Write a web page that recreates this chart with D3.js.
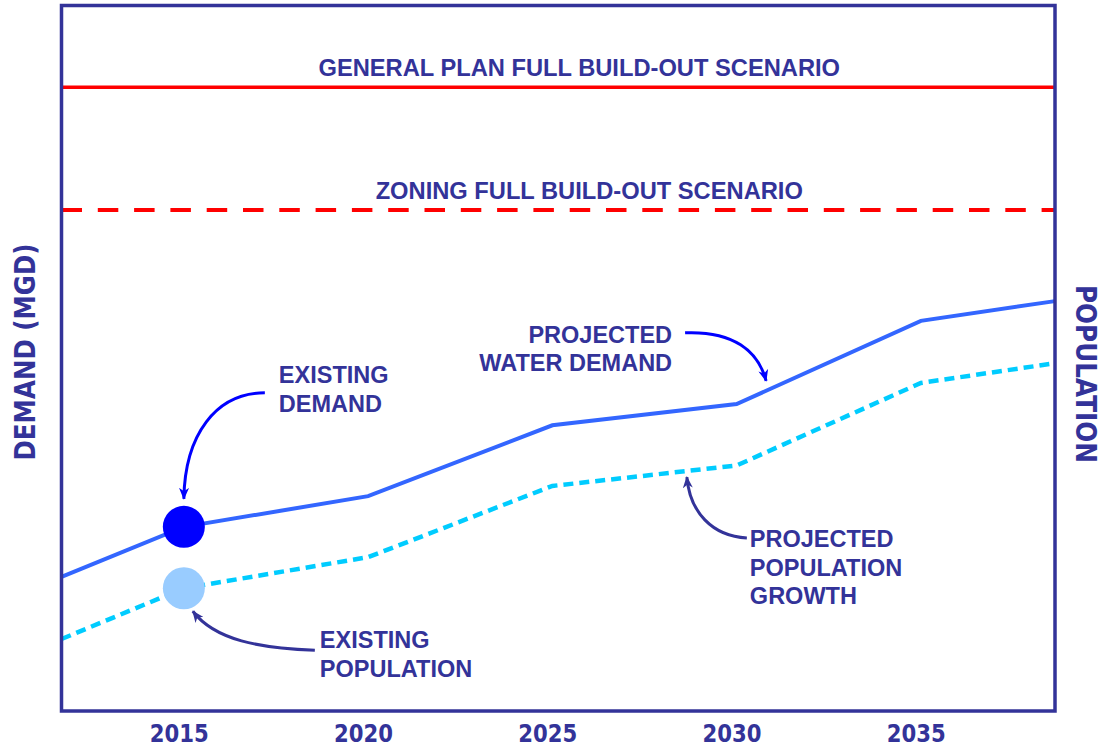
<!DOCTYPE html>
<html>
<head>
<meta charset="utf-8">
<script src="https://cdn.jsdelivr.net/npm/d3@7/dist/d3.min.js"></script>
<style>
  html, body { margin: 0; padding: 0; background: #fff; }
  svg { display: block; }
</style>
</head>
<body>
<svg id="chart" width="1105" height="748"></svg>
<script>
// Years at which the projections change slope; the ends sit on the plot edges
const years = [2011.68, 2015, 2020, 2025, 2030, 2035, 2038.64];
// Projected water demand (MGD, relative units)
const demand = [19.0, 26.1, 30.45, 40.5, 43.5, 55.3, 58.1];
// Projected population (relative units)
const population = [10.2, 17.4, 21.8, 31.9, 34.8, 46.5, 49.3];
// Build-out scenario levels
const scenarioNames = ["GENERAL PLAN FULL BUILD-OUT SCENARIO", "ZONING FULL BUILD-OUT SCENARIO"];
const scenarioLevels = [88.4, 71.0];
// Current conditions
const existingYear = 2015;
const existingDemand = 26.1;
const existingPopulation = 17.4;
// Year tick labels
const tickYears = [2015, 2020, 2025, 2030, 2035];

const NAVY = "#333399";
const svg = d3.select("#chart");
const plot = { left: 61.5, right: 1055, top: 5.5, bottom: 711 };

const x = d3.scaleLinear().domain([years[0], years[years.length - 1]]).range([plot.left, plot.right]);
const y = d3.scaleLinear().domain([0, 100]).range([plot.bottom, plot.top]);

const lineGen = d3.line().x(d => x(d[0])).y(d => y(d[1]));
const demandPts = years.map((yr, i) => [yr, demand[i]]);
const popPts = years.map((yr, i) => [yr, population[i]]);
const interp = (pts, yr) => {
  for (let i = 0; i < pts.length - 1; i++) {
    if (yr >= pts[i][0] && yr <= pts[i + 1][0]) {
      const t = (yr - pts[i][0]) / (pts[i + 1][0] - pts[i][0]);
      return pts[i][1] + t * (pts[i + 1][1] - pts[i][1]);
    }
  }
  return pts[pts.length - 1][1];
};

// Arrowhead markers
const defs = svg.append("defs");
[["arrBlue", "#0000ff"], ["arrNavy", NAVY]].forEach(([id, col]) => {
  defs.append("marker")
    .attr("id", id).attr("viewBox", "0 0 12 10")
    .attr("refX", 11).attr("refY", 5)
    .attr("markerWidth", 12).attr("markerHeight", 10)
    .attr("markerUnits", "userSpaceOnUse")
    .attr("orient", "auto")
    .append("path").attr("d", "M0,0 L12,5 L0,10 L3.5,5 Z").attr("fill", col);
});

// Scenario lines
svg.selectAll(".scenario").data(scenarioLevels).join("line")
  .attr("x1", plot.left).attr("x2", plot.right)
  .attr("y1", d => y(d)).attr("y2", d => y(d))
  .attr("stroke", "#ff0000").attr("stroke-width", (d, i) => i === 1 ? 4 : 3.5)
  .attr("stroke-dasharray", (d, i) => i === 1 ? "20.5,15.8" : null);

const labelShift = [21, 31];
svg.selectAll(".scenarioLabel").data(scenarioNames).join("text")
  .attr("x", (d, i) => (plot.left + plot.right) / 2 + labelShift[i])
  .attr("y", (d, i) => y(scenarioLevels[i]) - 11)
  .attr("text-anchor", "middle")
  .attr("font-family", "'Liberation Sans', Arial, sans-serif")
  .attr("font-weight", "bold").attr("font-size", 23.7)
  .attr("fill", NAVY).text(d => d);

// Population projection (dashed) and demand projection (solid)
svg.append("path").attr("d", lineGen(popPts))
  .attr("fill", "none").attr("stroke", "#00ccff").attr("stroke-width", 4.5)
  .attr("stroke-dasharray", "10,6");
svg.append("path").attr("d", lineGen(demandPts))
  .attr("fill", "none").attr("stroke", "#3366ff").attr("stroke-width", 4)
  .attr("stroke-linejoin", "miter");

// Existing conditions
const R = 21;
svg.append("circle").attr("cx", x(existingYear)).attr("cy", y(existingDemand)).attr("r", R).attr("fill", "#0000ff");
svg.append("circle").attr("cx", x(existingYear)).attr("cy", y(existingPopulation)).attr("r", R).attr("fill", "#99ccff");

// Frame
svg.append("rect")
  .attr("x", plot.left).attr("y", plot.top)
  .attr("width", plot.right - plot.left).attr("height", plot.bottom - plot.top)
  .attr("fill", "none").attr("stroke", NAVY).attr("stroke-width", 3.5);

// Year labels
svg.selectAll(".year").data(tickYears).join("text")
  .attr("x", d => x(d) - 4.5).attr("y", 742)
  .attr("text-anchor", "middle")
  .attr("font-family", "'DejaVu Sans', Verdana, sans-serif")
  .attr("font-weight", "bold").attr("font-size", 24)
  .attr("textLength", 59).attr("lengthAdjust", "spacingAndGlyphs")
  .attr("fill", NAVY).text(d => d);

// Axis titles
svg.append("text")
  .attr("transform", `translate(35,352) rotate(-90)`)
  .attr("text-anchor", "middle")
  .attr("font-family", "'DejaVu Sans', Verdana, sans-serif")
  .attr("font-weight", "bold").attr("font-size", 29)
  .attr("textLength", 217).attr("lengthAdjust", "spacingAndGlyphs")
  .attr("fill", NAVY).text("DEMAND (MGD)");
svg.append("text")
  .attr("transform", `translate(1076,374) rotate(90)`)
  .attr("text-anchor", "middle")
  .attr("font-family", "'DejaVu Sans', Verdana, sans-serif")
  .attr("font-weight", "bold").attr("font-size", 29)
  .attr("textLength", 178).attr("lengthAdjust", "spacingAndGlyphs")
  .attr("fill", NAVY).text("POPULATION");

// Callouts
function label(lines, x0, yFirst, anchor, gap) {
  const t = svg.append("text")
    .attr("font-family", "'Liberation Sans', Arial, sans-serif")
    .attr("font-weight", "bold").attr("font-size", 23.5)
    .attr("fill", NAVY).attr("text-anchor", anchor);
  lines.forEach((s, i) => t.append("tspan").attr("x", x0).attr("y", yFirst + i * gap).text(s));
}
function arrow(sx, sy, c1x, c1y, c2x, c2y, tx, ty, col, marker) {
  svg.append("path")
    .attr("d", `M${sx},${sy} C${c1x},${c1y} ${c2x},${c2y} ${tx},${ty}`)
    .attr("fill", "none").attr("stroke", col).attr("stroke-width", 3)
    .attr("marker-end", `url(#${marker})`);
}

// Existing demand
{
  const cx = x(existingYear), cy = y(existingDemand);
  const tx = cx, ty = cy - R - 7;
  arrow(cx + 81, cy - 134, cx + 32, cy - 134, cx + 1, cy - 92, tx, ty, "#0000ff", "arrBlue");
  label(["EXISTING", "DEMAND"], cx + 95, cy - 144, "start", 29);
}
// Projected water demand
{
  const yr = 2030.8;
  const tx = x(yr), ty = y(interp(demandPts, yr)) - 10;
  arrow(tx - 81, ty - 48, tx - 33, ty - 50, tx - 8, ty - 30, tx, ty, "#0000ff", "arrBlue");
  label(["PROJECTED", "WATER DEMAND"], tx - 94, ty - 38, "end", 28);
}
// Existing population
{
  const cx = x(existingYear), cy = y(existingPopulation);
  const tx = cx + 9, ty = cy + R + 2;
  arrow(cx + 131, cy + 62, cx + 76, cy + 60, cx + 31, cy + 52, tx, ty, "#333399", "arrNavy");
  label(["EXISTING", "POPULATION"], cx + 136, cy + 60, "start", 29);
}
// Projected population growth
{
  const yr = 2028.65;
  const tx = x(yr), ty = y(interp(popPts, yr)) + 6;
  arrow(tx + 60, ty + 61, tx + 25, ty + 59, tx + 3, ty + 35, tx, ty, "#333399", "arrNavy");
  label(["PROJECTED", "POPULATION", "GROWTH"], tx + 63, ty + 70, "start", 28.5);
}
</script>
</body>
</html>
